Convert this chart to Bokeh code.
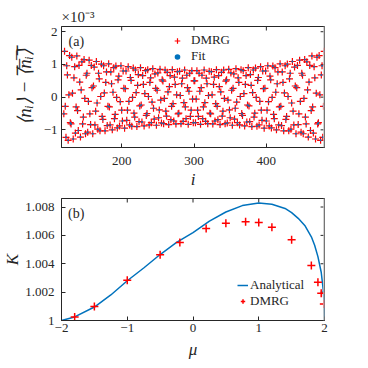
from bokeh.plotting import figure
from bokeh.models import Label, Legend, LegendItem, FixedTicker, Range1d, Span
from bokeh.layouts import column
from bokeh.embed import file_html
from bokeh.resources import INLINE

# ---------------- panel (a): density deviation (units of 1e-3) ----------------
site = list(range(120, 481))
dmrg_dn = [
    -0.51, 1.40, -0.28, -1.23, 0.96, 0.68, -1.32, 0.07, 1.27, -0.78,
    -0.82, 1.22, 0.12, -1.28, 0.59, 0.93, -1.10, -0.30, 1.26, -0.41,
    -1.02, 0.97, 0.46, -1.22, 0.22, 1.08, -0.82, -0.61, 1.15, -0.04,
    -1.12, 0.67, 0.73, -1.07, -0.13, 1.13, -0.51, -0.84, 0.97, 0.29,
    -1.12, 0.34, 0.92, -0.85, -0.43, 1.09, -0.18, -0.98, 0.73, 0.56,
    -1.03, 0.02, 1.01, -0.59, -0.68, 0.96, 0.13, -1.03, 0.45, 0.77,
    -0.87, -0.28, 1.02, -0.30, -0.85, 0.77, 0.41, -1.00, 0.15, 0.90,
    -0.66, -0.53, 0.95, -0.01, -0.94, 0.53, 0.64, -0.88, -0.14, 0.96,
    -0.40, -0.73, 0.80, 0.27, -0.95, 0.26, 0.80, -0.71, -0.40, 0.93,
    -0.13, -0.85, 0.60, 0.51, -0.89, -0.01, 0.89, -0.49, -0.61, 0.83,
    0.14, -0.90, 0.36, 0.69, -0.75, -0.27, 0.90, -0.24, -0.76, 0.66,
    0.39, -0.88, 0.11, 0.81, -0.56, -0.50, 0.84, 0.02, -0.85, 0.45,
    0.59, -0.78, -0.15, 0.87, -0.34, -0.67, 0.71, 0.27, -0.86, 0.21,
    0.74, -0.63, -0.39, 0.85, -0.09, -0.79, 0.53, 0.49, -0.81, -0.04,
    0.83, -0.43, -0.58, 0.76, 0.16, -0.84, 0.32, 0.66, -0.69, -0.28,
    0.84, -0.20, -0.73, 0.61, 0.39, -0.82, 0.07, 0.78, -0.51, -0.49,
    0.79, 0.05, -0.81, 0.41, 0.58, -0.74, -0.17, 0.83, -0.30, -0.66,
    0.67, 0.29, -0.83, 0.18, 0.73, -0.59, -0.40, 0.81, -0.06, -0.78,
    0.50,
    0.50, -0.78, -0.06, 0.81, -0.40, -0.59, 0.73, 0.18, -0.83, 0.29,
    0.67, -0.66, -0.30, 0.83, -0.17, -0.74, 0.58, 0.41, -0.81, 0.05,
    0.79, -0.49, -0.51, 0.78, 0.07, -0.82, 0.39, 0.61, -0.73, -0.20,
    0.84, -0.28, -0.69, 0.66, 0.32, -0.84, 0.16, 0.76, -0.58, -0.43,
    0.83, -0.04, -0.81, 0.49, 0.53, -0.79, -0.09, 0.85, -0.39, -0.63,
    0.74, 0.21, -0.86, 0.27, 0.71, -0.67, -0.34, 0.87, -0.15, -0.78,
    0.59, 0.45, -0.85, 0.02, 0.84, -0.50, -0.56, 0.81, 0.11, -0.88,
    0.39, 0.66, -0.76, -0.24, 0.90, -0.27, -0.75, 0.69, 0.36, -0.90,
    0.14, 0.83, -0.61, -0.49, 0.89, -0.01, -0.89, 0.51, 0.60, -0.85,
    -0.13, 0.93, -0.40, -0.71, 0.80, 0.26, -0.95, 0.27, 0.80, -0.73,
    -0.40, 0.96, -0.14, -0.88, 0.64, 0.53, -0.94, -0.01, 0.95, -0.53,
    -0.66, 0.90, 0.15, -1.00, 0.41, 0.77, -0.85, -0.30, 1.02, -0.28,
    -0.87, 0.77, 0.45, -1.03, 0.13, 0.96, -0.68, -0.59, 1.01, 0.02,
    -1.03, 0.56, 0.73, -0.98, -0.18, 1.09, -0.43, -0.85, 0.92, 0.34,
    -1.12, 0.29, 0.97, -0.84, -0.51, 1.13, -0.13, -1.07, 0.73, 0.67,
    -1.12, -0.04, 1.15, -0.61, -0.82, 1.08, 0.22, -1.22, 0.46, 0.97,
    -1.02, -0.41, 1.26, -0.30, -1.10, 0.93, 0.59, -1.28, 0.12, 1.22,
    -0.82, -0.78, 1.27, 0.07, -1.32, 0.68, 0.96, -1.23, -0.28, 1.40,
]
fit_dn = list(dmrg_dn)

# ---------------- panel (b): Luttinger parameter ----------------
mu_curve = [-2.0, -1.8, -1.5, -1.25, -1.0, -0.75, -0.5, -0.25, 0.0, 0.25, 0.5, 0.75,
            1.0, 1.2, 1.4, 1.5, 1.6, 1.7, 1.8, 1.85, 1.9, 1.95, 1.98, 1.995, 2.0]
K_curve = [1.0000, 1.00025, 1.00095, 1.0018, 1.0028, 1.0037, 1.00465, 1.0055, 1.0062,
           1.0070, 1.00765, 1.0081, 1.00828, 1.0082, 1.0079, 1.0076, 1.0072, 1.0067,
           1.0059, 1.0053, 1.0045, 1.0034, 1.0022, 1.0011, 1.0000]
mu_dmrg = [-1.8, -1.5, -1.0, -0.5, -0.2, 0.2, 0.5, 0.8, 1.0, 1.2, 1.5, 1.8, 1.9, 1.95, 1.99]
K_dmrg = [1.00024, 1.00099, 1.00284, 1.00464, 1.00549, 1.00649, 1.00686, 1.00696,
          1.00691, 1.00658, 1.00570, 1.00388, 1.00270, 1.00192, 1.00116]

xticks_a = [200, 300, 400]
yticks_a = [-1, 0, 1, 2]
xticks_b = [-2, -1, 0, 1, 2]
yticks_b = [1.0, 1.002, 1.004, 1.006, 1.008]

FONT = "Liberation Serif"
AX = "#262626"
BLUE = "#0072BD"
RED = "#FF0000"
TICK = 4  # px


def style_axis(ax):
    ax.major_tick_in = TICK
    ax.major_tick_out = 0
    ax.minor_tick_in = 0
    ax.minor_tick_out = 0
    ax.axis_line_color = AX
    ax.major_tick_line_color = AX
    ax.major_label_text_font = FONT
    ax.major_label_text_font_size = "13px"
    ax.major_label_text_color = AX
    ax.major_label_standoff = 4
    ax.axis_label_text_font = FONT
    ax.axis_label_text_font_size = "17px"
    ax.axis_label_text_font_style = "italic"
    ax.axis_label_text_color = AX
    ax.axis_label_standoff = 3


def mirror_ticks(p, xt, yt, fw, fh):
    x0, x1 = p.x_range.start, p.x_range.end
    y0, y1 = p.y_range.start, p.y_range.end
    dy = TICK * (y1 - y0) / fh
    dx = TICK * (x1 - x0) / fw
    p.segment(x0=xt, y0=[y1] * len(xt), x1=xt, y1=[y1 - dy] * len(xt),
              line_color=AX, line_width=1)
    p.segment(x0=[x1] * len(yt), y0=yt, x1=[x1 - dx] * len(yt), y1=yt,
              line_color=AX, line_width=1)
    p.add_layout(Span(location=x1, dimension="height", line_color="#c4c4c4", line_width=2.5))


# ---------------- figure (a) ----------------
W1, H1, L1, R1, T1, B1 = 352, 193, 54, 27, 26, 46
p1 = figure(width=W1, height=H1, x_range=Range1d(116.8, 480.4), y_range=Range1d(-1.54, 2.16),
            output_backend="svg", toolbar_location=None,
            min_border_left=L1, min_border_right=R1, min_border_top=T1, min_border_bottom=B1)
p1.grid.visible = False
p1.outline_line_color = AX
p1.xaxis.ticker = FixedTicker(ticks=xticks_a)
p1.yaxis.ticker = FixedTicker(ticks=yticks_a)
style_axis(p1.xaxis[0])
style_axis(p1.yaxis[0])
p1.xaxis.major_label_standoff = 9
p1.xaxis.axis_label_standoff = 2
p1.yaxis.axis_label_standoff = 6
p1.yaxis.axis_label_text_font_size = "19px"
p1.xaxis.axis_label = "i"
p1.yaxis.axis_label = "\u27e8n\u1d62\u27e9 \u2212 \u27e8\u0305n\u0305\u1d62\u0305\u27e9\u0305"
p1.title.text = "\u00d710\u207b\u00b3"
p1.title.align = "left"
p1.title.text_font = FONT
p1.title.text_font_size = "15px"
p1.title.text_font_style = "normal"
p1.title.text_color = AX
p1.title.standoff = 4
mirror_ticks(p1, xticks_a, yticks_a, W1 - L1 - R1, H1 - T1 - B1)

r_c1 = p1.scatter(site, dmrg_dn, marker="cross", size=7, line_width=1.2, color=RED)
r_d1 = p1.scatter(site, fit_dn, marker="circle", size=2.0, line_width=0, fill_color=BLUE)
leg1 = Legend(items=[LegendItem(label="DMRG", renderers=[r_c1]),
                     LegendItem(label="Fit", renderers=[r_d1])],
              location=(107, 81), background_fill_alpha=0, border_line_alpha=0,
              label_text_font=FONT, label_text_font_size="13px", label_text_color=AX,
              glyph_width=14, glyph_height=15, label_height=15, spacing=0, padding=2,
              margin=0, label_standoff=7)
p1.add_layout(leg1)
p1.add_layout(Label(x=126.5, y=1.92, text="(a)", text_baseline="top", text_font=FONT,
                    text_font_size="14px", text_color=AX))

# ---------------- figure (b) ----------------
W2, H2, L2, R2, T2, B2 = 352, 169, 56, 28, 5, 42
p2 = figure(width=W2, height=H2, x_range=Range1d(-2, 2), y_range=Range1d(1.0, 1.0086),
            output_backend="svg", toolbar_location=None,
            min_border_left=L2, min_border_right=R2, min_border_top=T2, min_border_bottom=B2)
p2.grid.visible = False
p2.outline_line_color = AX
p2.xaxis.ticker = FixedTicker(ticks=xticks_b)
p2.yaxis.ticker = FixedTicker(ticks=yticks_b)
p2.yaxis.major_label_overrides = {1.0: "1", 1.002: "1.002", 1.004: "1.004",
                                  1.006: "1.006", 1.008: "1.008"}
style_axis(p2.xaxis[0])
style_axis(p2.yaxis[0])
p2.yaxis.major_label_standoff = 7
p2.yaxis.axis_label_standoff = 0
p2.xaxis.major_label_standoff = 3
p2.xaxis.axis_label_standoff = 5
p2.xaxis.axis_label = "\u03bc"
p2.yaxis.axis_label = "K"
mirror_ticks(p2, xticks_b, yticks_b, W2 - L2 - R2, H2 - T2 - B2)

r_l2 = p2.line(mu_curve, K_curve, line_color=BLUE, line_width=1.5)
r_c2 = p2.scatter(mu_dmrg, K_dmrg, marker="cross", size=8, line_width=1.5, color=RED)
leg2 = Legend(items=[LegendItem(label="Analytical", renderers=[r_l2]),
                     LegendItem(label="DMRG", renderers=[r_c2])],
              location=(174, 9), background_fill_alpha=0, border_line_alpha=0,
              label_text_font=FONT, label_text_font_size="13px", label_text_color=AX,
              glyph_width=11, glyph_height=16, label_height=16, spacing=0, padding=2,
              margin=0, label_standoff=2)
p2.add_layout(leg2)
p2.add_layout(Label(x=-1.90, y=1.0081, text="(b)", text_baseline="top", text_font=FONT,
                    text_font_size="14px", text_color=AX))

layout = column(p1, p2, spacing=0)
open("out.html", "w").write(file_html(layout, INLINE))
